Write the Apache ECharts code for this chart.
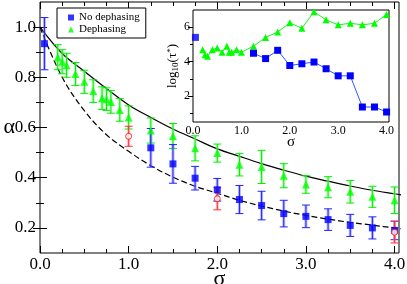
<!DOCTYPE html>
<html><head><meta charset="utf-8">
<script src="https://cdn.jsdelivr.net/npm/echarts@6/dist/echarts.min.js"></script>
<style>html,body{margin:0;padding:0;background:#fff}#c{width:407px;height:284px}</style>
</head><body><div id="c"></div>
<script>
// ---------- data ----------
const sigmaBlue   = [0.05, 1.25, 1.5, 1.75, 2.0, 2.25, 2.5, 2.75, 3.0, 3.25, 3.5, 3.75, 4.0];
const alphaBlue   = [0.934, 0.519, 0.455, 0.398, 0.352, 0.313, 0.289, 0.257, 0.246, 0.233, 0.210, 0.200, 0.190];
const errBlue     = [0.104, 0.077, 0.077, 0.047, 0.045, 0.056, 0.057, 0.053, 0.045, 0.043, 0.044, 0.044, 0.037];

const sigmaGreen  = [0.2, 0.25, 0.3, 0.4, 0.5, 0.6, 0.7, 0.75, 0.8, 0.9, 1.0, 1.25, 1.5, 1.75, 2.0, 2.25, 2.5, 2.75, 3.0, 3.25, 3.5, 3.75, 4.0];
const alphaGreen  = [0.880, 0.862, 0.848, 0.813, 0.782, 0.745, 0.717, 0.713, 0.702, 0.670, 0.640, 0.588, 0.566, 0.517, 0.498, 0.452, 0.443, 0.408, 0.373, 0.362, 0.344, 0.324, 0.310];
const errGreen    = [0.050, 0.048, 0.048, 0.046, 0.046, 0.045, 0.045, 0.045, 0.045, 0.045, 0.046, 0.050, 0.050, 0.050, 0.036, 0.045, 0.066, 0.048, 0.035, 0.042, 0.045, 0.042, 0.053];

const sigmaRed    = [1.0, 2.0, 4.0];
const alphaRed    = [0.565, 0.316, 0.183];
const errRed      = [0.040, 0.044, 0.043];

const sigmaCurve  = [0, 0.25, 0.5, 0.75, 1.0, 1.25, 1.5, 1.75, 2.0, 2.25, 2.5, 2.75, 3.0, 3.25, 3.5, 3.75, 4.0, 4.25];
const solidCurve  = [1.0, 0.895, 0.824, 0.755, 0.690, 0.640, 0.594, 0.554, 0.515, 0.485, 0.456, 0.430, 0.406, 0.386, 0.367, 0.350, 0.336, 0.322];
const dashedCurve = [1.0, 0.800, 0.667, 0.571, 0.505, 0.448, 0.402, 0.366, 0.338, 0.310, 0.287, 0.267, 0.250, 0.235, 0.222, 0.211, 0.200, 0.190];

const logTauBlue  = [5.41, 4.49, 4.18, 4.66, 3.78, 3.88, 3.98, 3.59, 3.18, 3.18, 1.37, 1.37, 1.08];
const logTauGreen = [4.70, 4.41, 4.31, 4.70, 4.80, 4.55, 4.90, 4.55, 4.55, 4.70, 4.55, 4.90, 5.41, 5.72, 6.26, 5.94, 6.90, 6.43, 6.14, 6.23, 6.14, 6.23, 6.74];

const xMajor      = [0, 1, 2, 3, 4];
const xMinor      = [0.25, 0.5, 0.75, 1.25, 1.5, 1.75, 2.25, 2.5, 2.75, 3.25, 3.5, 3.75];
const yMajor      = [0.2, 0.4, 0.6, 0.8, 1.0];
const yMinor      = [0.3, 0.5, 0.7, 0.9];
const insetYMajor = [2, 4, 6];
const insetYMinor = [1, 3, 5];
const legendNames = ['No dephasing', 'Dephasing'];

// ---------- helpers ----------
const FONT = 'Liberation Serif';
function axisSet(dim, grid, min, max, major, minor, lab, majLen, minLen) {
  const pos = dim === 'x' ? ['bottom', 'top'] : ['left', 'right'];
  const base = {gridIndex: grid, type: 'value', min: min, max: max, nameMoveOverlap: false,
    axisLine: {show: false}, splitLine: {show: false}};
  const out = [];
  pos.forEach((p, k) => {
    out.push(Object.assign({}, base, {position: p,
      axisTick: {show: true, inside: true, length: majLen, customValues: major, lineStyle: {color: '#000'}},
      axisLabel: k === 0 ? Object.assign({show: true, customValues: major, color: '#000', fontFamily: FONT}, lab) : {show: false}
    }));
    out.push(Object.assign({}, base, {position: p,
      axisTick: {show: true, inside: true, length: minLen, customValues: minor, lineStyle: {color: '#000'}},
      axisLabel: {show: false}
    }));
  });
  return out;
}
function errSeries(xs, ys, es, color, light) {
  return {
    type: 'custom', xAxisIndex: 0, yAxisIndex: 0, silent: true, z: 2,
    data: xs.map((x, i) => [x, ys[i] - es[i], ys[i] + es[i]]),
    encode: {x: 0, y: [1, 2]},
    renderItem: function (params, api) {
      const x = api.value(0);
      const lo = api.coord([x, api.value(1)]);
      const hi = api.coord([x, api.value(2)]);
      const w = 4;
      return {type: 'group', children: [
        {type: 'line', shape: {x1: lo[0], y1: lo[1], x2: hi[0], y2: hi[1]}, style: {stroke: light, lineWidth: 3}},
        {type: 'line', shape: {x1: lo[0], y1: lo[1], x2: hi[0], y2: hi[1]}, style: {stroke: color, lineWidth: 1}},
        {type: 'line', shape: {x1: hi[0] - w, y1: hi[1], x2: hi[0] + w, y2: hi[1]}, style: {stroke: color, lineWidth: 1}},
        {type: 'line', shape: {x1: lo[0] - w, y1: lo[1], x2: lo[0] + w, y2: lo[1]}, style: {stroke: color, lineWidth: 1}}
      ]};
    }
  };
}
const pairs = (xs, ys) => xs.map((x, i) => [x, ys[i]]);

// ---------- axes ----------
const xAxes = [].concat(
  axisSet('x', 0, 0, 4.05, xMajor, xMinor, {fontSize: 17, margin: 3, formatter: v => v.toFixed(1)}, 7, 4),
  axisSet('x', 1, 0, 4.05, xMajor, xMinor, {fontSize: 12, margin: 3, formatter: v => v.toFixed(1)}, 5, 3)
);
const yAxes = [].concat(
  axisSet('y', 0, 0.1, 1.1, yMajor, yMinor, {fontSize: 17, margin: 4, formatter: v => v.toFixed(1)}, 7, 4),
  axisSet('y', 1, 0.5, 7.0, insetYMajor, insetYMinor, {fontSize: 12, margin: 3, formatter: v => String(v)}, 5, 3)
);
Object.assign(xAxes[0], {name: 'σ', nameLocation: 'middle', nameGap: 15,
  nameTextStyle: {fontFamily: FONT, fontSize: 22, color: '#000'}});
Object.assign(yAxes[0], {name: 'α', nameLocation: 'middle', nameGap: 25, nameRotate: 0,
  nameTextStyle: {fontFamily: FONT, fontSize: 22, color: '#000', padding: [4, 0, 0, 0]}});
Object.assign(xAxes[4], {name: 'σ', nameLocation: 'middle', nameGap: 13,
  nameTextStyle: {fontFamily: FONT, fontSize: 15, color: '#000'}});
Object.assign(yAxes[4], {name: 'log{sub|10}(τ{sup|*})', nameLocation: 'middle', nameGap: 13,
  nameTextStyle: {fontFamily: FONT, fontSize: 13, color: '#000',
    rich: {sub: {fontFamily: FONT, fontSize: 9, verticalAlign: 'bottom', padding: [5, 0, 0, 0]},
           sup: {fontFamily: FONT, fontSize: 9, verticalAlign: 'top', padding: [0, 0, 4, 0]}}}});

// ---------- chart ----------
const chart = echarts.init(document.getElementById('c'), null, {renderer: 'canvas'});
chart.setOption({
  animation: false,
  backgroundColor: '#fff',
  textStyle: {fontFamily: FONT},
  grid: [
    {left: 40, top: 2, width: 359, height: 251, outerBoundsMode: 'none', containLabel: false,
      show: true, borderColor: '#000', borderWidth: 1, backgroundColor: 'transparent'},
    {left: 193, top: 10, width: 196, height: 112, outerBoundsMode: 'none', containLabel: false,
      show: true, borderColor: '#000', borderWidth: 1, backgroundColor: '#fff', z: 5}
  ],
  xAxis: xAxes,
  yAxis: yAxes,
  legend: {
    left: 57, top: 8, orient: 'vertical', data: [{name: legendNames[0], icon: 'rect'}, {name: legendNames[1], icon: 'triangle'}],
    itemWidth: 6, itemHeight: 6, itemGap: 1, padding: [4, 6, 3, 11],
    borderColor: '#000', borderWidth: 1, borderRadius: 0, backgroundColor: '#fff',
    textStyle: {fontFamily: FONT, fontSize: 11, color: '#000', lineHeight: 10}
  },
  series: [
    {type: 'line', xAxisIndex: 0, yAxisIndex: 0, data: pairs(sigmaCurve, solidCurve), smooth: 0.35,
      symbol: 'none', lineStyle: {color: '#000', width: 1.2}, silent: true, z: 1, clip: true},
    {type: 'line', xAxisIndex: 0, yAxisIndex: 0, data: pairs(sigmaCurve, dashedCurve), smooth: 0.35,
      symbol: 'none', lineStyle: {color: '#000', width: 1.2, type: [6, 3]}, silent: true, z: 1, clip: true},
    errSeries(sigmaGreen, alphaGreen, errGreen, '#00ee00', 'rgba(120,255,120,0.55)'),
    errSeries(sigmaBlue, alphaBlue, errBlue, '#2222ff', 'rgba(110,110,255,0.5)'),
    errSeries(sigmaRed, alphaRed, errRed, '#ff3333', 'rgba(255,120,120,0.5)'),
    {name: legendNames[1], type: 'scatter', xAxisIndex: 0, yAxisIndex: 0, data: pairs(sigmaGreen, alphaGreen),
      symbol: 'triangle', symbolSize: 8, itemStyle: {color: '#00ff00'}, z: 3},
    {name: legendNames[0], type: 'scatter', xAxisIndex: 0, yAxisIndex: 0, data: pairs(sigmaBlue, alphaBlue),
      symbol: 'rect', symbolSize: 7, itemStyle: {color: '#0000ff'}, z: 3},
    {type: 'scatter', xAxisIndex: 0, yAxisIndex: 0, data: pairs(sigmaRed, alphaRed),
      symbol: 'circle', symbolSize: 6, itemStyle: {color: '#fff', borderColor: '#ff0000', borderWidth: 1}, z: 3},
    {type: 'line', xAxisIndex: 4, yAxisIndex: 4, data: pairs(sigmaGreen, logTauGreen),
      symbol: 'triangle', symbolSize: 7, showAllSymbol: true, lineStyle: {color: '#22ee22', width: 1},
      itemStyle: {color: '#00ff00'}, z: 6},
    {type: 'line', xAxisIndex: 4, yAxisIndex: 4, data: pairs(sigmaBlue, logTauBlue).slice(1),
      symbol: 'rect', symbolSize: 7, showAllSymbol: true, lineStyle: {color: '#3355ff', width: 1},
      itemStyle: {color: '#0000ff'}, z: 6},
    {type: 'scatter', xAxisIndex: 4, yAxisIndex: 4, data: pairs(sigmaBlue, logTauBlue).slice(0, 1),
      symbol: 'rect', symbolSize: 7, itemStyle: {color: '#0000ff'}, z: 6}
  ]
});
</script></body></html>
